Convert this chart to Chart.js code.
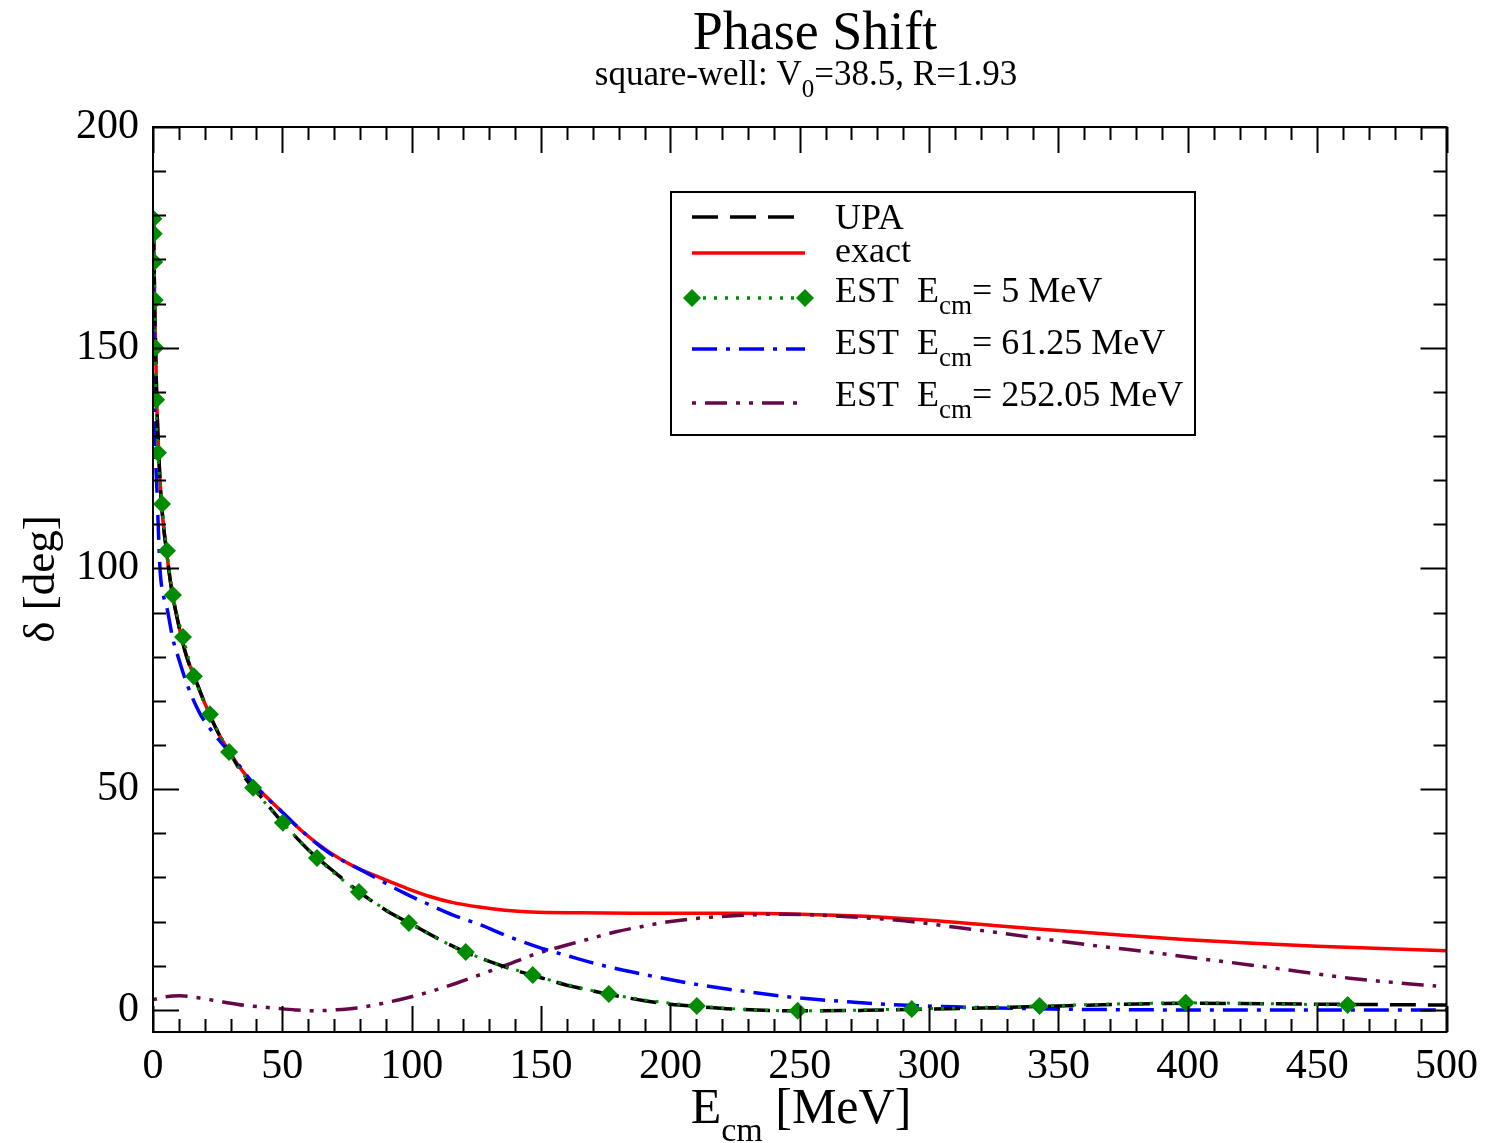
<!DOCTYPE html>
<html>
<head>
<meta charset="utf-8">
<script src="https://cdn.jsdelivr.net/npm/chart.js@4.4.0/dist/chart.umd.min.js"></script>
<style>
  html, body { margin: 0; padding: 0; background: #fff; }
  #wrap { width: 1488px; height: 1143px; }
</style>
</head>
<body>
<div id="wrap"><canvas id="mycanvas" width="1488" height="1143"></canvas></div>
<script>
// tick labels
var xTicks = [0, 50, 100, 150, 200, 250, 300, 350, 400, 450, 500];
var yTicks = [0, 50, 100, 150, 200];

// UPA (black dashed)
var upaE = [0.2, 0.4, 0.7, 1, 1.5, 2, 3, 4, 5, 7, 10, 13, 16, 20, 25, 30, 35, 40, 50, 60, 70, 80, 90, 100, 110, 120, 130, 140, 150, 160, 170, 180, 190, 200, 210, 225, 250, 275, 300, 325, 350, 400, 450, 500];
var upaD = [178, 170, 158, 150, 137, 129, 117, 110, 105, 96, 87, 80, 75.5, 69.5, 63, 58, 53, 49.5, 42.5, 36.3, 31.3, 26.6, 22.6, 19.4, 16.2, 13.3, 11, 9, 7.3, 5.6, 4.3, 3.1, 2.1, 1.3, 0.8, 0.2, -0.2, -0.1, 0.2, 0.5, 0.9, 1.5, 1.3, 1.1];

// exact (red)
var exactE = [0.2, 0.4, 0.7, 1, 1.5, 2, 3, 4, 5, 7, 10, 13, 16, 20, 25, 30, 35, 40, 50, 58, 68, 78, 88, 97, 107, 116, 126, 136, 146, 165, 185, 200, 225, 250, 275, 300, 325, 350, 375, 400, 425, 450, 475, 500];
var exactD = [178, 170, 158, 150, 137, 129, 117, 110, 105, 96, 87, 80, 75.5, 69.5, 63, 58, 53.8, 50.5, 44.8, 40.3, 35.8, 32.4, 29.9, 27.8, 25.7, 24.3, 23.3, 22.6, 22.2, 22, 21.9, 21.9, 21.9, 21.7, 21.2, 20.3, 19.1, 18, 16.9, 15.9, 15.1, 14.4, 13.9, 13.4];

// EST Ecm = 5 MeV (green diamonds)
var est5E = [0.15, 0.3, 0.45, 0.65, 0.9, 1.2, 1.9, 3.5, 5.4, 7.7, 11.6, 15.8, 22, 29.4, 38.7, 50.2, 63.4, 79.6, 98.9, 120.9, 146.8, 176.2, 210.2, 249.2, 293.3, 342.7, 399.2, 461.8];
var est5D = [179.2, 175.8, 169.4, 160.8, 150, 138.2, 126.2, 114.6, 104, 94, 84.5, 75.6, 67, 58.4, 50.3, 42.4, 34.4, 26.7, 19.7, 13.1, 7.9, 3.6, 0.9, -0.2, 0.2, 0.9, 1.6, 1.1];

// EST Ecm = 61.25 MeV (blue dash-dot)
var est61E = [0.1, 0.3, 0.6, 1, 1.5, 2.7, 4, 5.4, 7.7, 9.7, 13, 18, 23, 28.6, 38.6, 45, 50, 58, 68, 78.8, 87.7, 97, 107, 116, 126.4, 138, 150, 160, 173, 190, 211, 230, 250, 270, 289, 310, 326, 347, 375, 400, 450, 500];
var est61D = [176, 160, 133, 125, 118, 100, 94, 91, 84, 80, 74, 67.3, 63, 59, 51.4, 47.5, 44.8, 40.3, 35.6, 32.2, 29.4, 26.5, 23.8, 21.5, 19.3, 16.5, 14, 12.3, 10.2, 8, 5.7, 4.1, 2.7, 1.8, 1.1, 0.7, 0.45, 0.2, 0.05, 0, 0, 0];

// EST Ecm = 252.05 MeV (maroon dash-dot-dot)
var est252E = [0, 5, 10.4, 18, 27, 36, 46.4, 55, 61.8, 70, 78.8, 88, 98, 108, 117.5, 127, 136.7, 148, 160, 170, 179, 189, 198.6, 208, 218, 230, 243, 256, 269, 282, 295, 311.8, 328, 346.6, 365, 385, 405, 424, 443, 462.5, 480, 496];
var est252D = [2.3, 3, 3.2, 2.7, 1.8, 1, 0.45, 0, -0.2, 0, 0.45, 1.4, 2.7, 4.3, 6.1, 8.1, 10.2, 12.7, 14.7, 16.3, 17.7, 18.9, 19.9, 20.6, 21.1, 21.5, 21.7, 21.5, 21.1, 20.6, 19.9, 18.6, 17.4, 15.9, 14.5, 13.1, 11.6, 10.2, 8.7, 7.2, 6.2, 5.4];

var RED = "#ff0000", GREEN = "#008c00", BLUE = "#0000ff", MAROON = "#670748";
var SERIF = "'Liberation Serif', 'Times New Roman', serif";

function pts(xs, ys) {
	var out = [];
	for (var i in xs) { out.push({x: xs[i], y: ys[i]}); }
	return out;
}

var legendItems = [
	{text: "UPA", color: "#000", dash: [26, 12]},
	{text: "exact", color: RED, dash: []},
	{text: "EST  E", sub: "cm", rest: "= 5 MeV", color: GREEN, dash: [3, 8], marker: true},
	{text: "EST  E", sub: "cm", rest: "= 61.25 MeV", color: BLUE, dash: [25, 9, 4, 9]},
	{text: "EST  E", sub: "cm", rest: "= 252.05 MeV", color: MAROON, dash: [4, 9, 22, 9, 4, 9]}
];

function diamond(ctx, x, y, r, color) {
	ctx.beginPath();
	ctx.moveTo(x, y - r); ctx.lineTo(x + r, y); ctx.lineTo(x, y + r); ctx.lineTo(x - r, y);
	ctx.closePath();
	ctx.fillStyle = color;
	ctx.fill();
}

// text with one subscript in the middle, centred on cx
function subText(ctx, parts, cx, y, big, small, drop) {
	ctx.font = big + "px " + SERIF; var w1 = ctx.measureText(parts[0]).width, w3 = ctx.measureText(parts[2]).width;
	ctx.font = small + "px " + SERIF; var w2 = ctx.measureText(parts[1]).width;
	var x0 = cx - (w1 + w2 + w3) / 2;
	ctx.textAlign = "left";
	ctx.font = big + "px " + SERIF; ctx.fillText(parts[0], x0, y);
	ctx.font = small + "px " + SERIF; ctx.fillText(parts[1], x0 + w1, y + drop);
	ctx.font = big + "px " + SERIF; ctx.fillText(parts[2], x0 + w1 + w2, y);
}

// frame, inward ticks, titles and legend
var decor = {
	id: "decor",
	afterDatasetsDraw: function(chart) {
		var ctx = chart.ctx, a = chart.chartArea;
		var xs = chart.scales.x, ys = chart.scales.y;
		ctx.save();
		ctx.strokeStyle = "#000";
		ctx.lineWidth = 2;
		ctx.strokeRect(a.left, a.top, a.right - a.left, a.bottom - a.top);
		ctx.beginPath();
		for (var v = 0; v <= 500; v += 10) {
			var px = Math.round(xs.getPixelForValue(v)) + 0.5;
			var len = (v % 50 === 0) ? 26 : 13;
			ctx.moveTo(px, a.bottom); ctx.lineTo(px, a.bottom - len);
			ctx.moveTo(px, a.top); ctx.lineTo(px, a.top + len);
		}
		for (var w = 0; w <= 200; w += 10) {
			var py = Math.round(ys.getPixelForValue(w)) + 0.5;
			var l2 = (w % 50 === 0) ? 26 : 13;
			ctx.moveTo(a.left, py); ctx.lineTo(a.left + l2, py);
			ctx.moveTo(a.right, py); ctx.lineTo(a.right - l2, py);
		}
		ctx.stroke();

		ctx.fillStyle = "#000";
		ctx.textBaseline = "alphabetic";
		// title
		ctx.textAlign = "center";
		ctx.font = "54px " + SERIF;
		ctx.fillText("Phase Shift", 815, 49);
		// subtitle
		subText(ctx, ["square-well: V", "0", "=38.5, R=1.93"], 806, 85, 35, 25, 12);
		// x axis title
		subText(ctx, ["E", "cm", " [MeV]"], 801, 1123, 50, 34, 18);

		// y axis title
		ctx.save();
		ctx.translate(54, 579);
		ctx.rotate(-Math.PI / 2);
		ctx.textAlign = "center";
		ctx.font = "45px " + SERIF;
		ctx.fillText("\u03b4 [deg]", 0, 0);
		ctx.restore();

		// legend
		ctx.fillStyle = "#fff";
		ctx.fillRect(671, 192, 524, 243);
		ctx.strokeStyle = "#000";
		ctx.lineWidth = 2;
		ctx.strokeRect(671, 192, 524, 243);
		var rowY = [217, 253, 298, 349, 403];
		var baseY = [229, 262, 302, 354, 406];
		for (var i = 0; i < legendItems.length; i++) {
			var it = legendItems[i];
			ctx.save();
			ctx.strokeStyle = it.color;
			ctx.lineWidth = 3.5;
			ctx.setLineDash(it.dash);
			ctx.beginPath();
			ctx.moveTo(692, rowY[i]); ctx.lineTo(805, rowY[i]);
			ctx.stroke();
			ctx.restore();
			if (it.marker) {
				diamond(ctx, 692, rowY[i], 9, it.color);
				diamond(ctx, 805, rowY[i], 9, it.color);
			}
			ctx.fillStyle = "#000";
			ctx.textAlign = "left";
			ctx.font = "36px " + SERIF;
			ctx.fillText(it.text, 835, baseY[i]);
			if (it.sub) {
				var tw = ctx.measureText(it.text).width;
				ctx.font = "27px " + SERIF;
				ctx.fillText(it.sub, 835 + tw, baseY[i] + 12);
				var sw = ctx.measureText(it.sub).width;
				ctx.font = "36px " + SERIF;
				ctx.fillText(it.rest, 835 + tw + sw, baseY[i]);
			}
		}
		ctx.restore();
	}
};

var chartdata = {
	datasets: [
		{
			label: "UPA",
			data: pts(upaE, upaD),
			borderColor: "#000",
			borderWidth: 3.5,
			borderDash: [26, 12],
			pointRadius: 0,
			cubicInterpolationMode: "monotone",
			order: 2
		},
		{
			label: "exact",
			data: pts(exactE, exactD),
			borderColor: RED,
			borderWidth: 3.5,
			pointRadius: 0,
			cubicInterpolationMode: "monotone",
			order: 5
		},
		{
			label: "EST Ecm= 5 MeV",
			data: pts(est5E, est5D),
			borderColor: GREEN,
			backgroundColor: GREEN,
			borderWidth: 3,
			borderDash: [3, 8],
			pointStyle: "rectRot",
			pointRadius: 9,
			pointBorderWidth: 0,
			pointBackgroundColor: GREEN,
			cubicInterpolationMode: "monotone",
			order: 1
		},
		{
			label: "EST Ecm= 61.25 MeV",
			data: pts(est61E, est61D),
			borderColor: BLUE,
			borderWidth: 3.5,
			borderDash: [25, 9, 4, 9],
			pointRadius: 0,
			cubicInterpolationMode: "monotone",
			order: 3
		},
		{
			label: "EST Ecm= 252.05 MeV",
			data: pts(est252E, est252D),
			borderColor: MAROON,
			borderWidth: 3.5,
			borderDash: [4, 9, 22, 9, 4, 9],
			pointRadius: 0,
			cubicInterpolationMode: "monotone",
			order: 4
		}
	]
};

var ctx = document.getElementById("mycanvas");

var LineGraph = new Chart(ctx, {
	type: "line",
	data: chartdata,
	plugins: [decor],
	options: {
		responsive: false,
		animation: false,
		layout: {padding: {left: 0, top: 127, right: 41, bottom: 0}},
		plugins: {legend: {display: false}, tooltip: {enabled: false}, title: {display: false}},
		scales: {
			x: {
				type: "linear",
				min: 0, max: 500,
				afterBuildTicks: function(s) { s.ticks = xTicks.map(function(v) { return {value: v}; }); },
				afterFit: function(s) { s.height = 111; },
				grid: {display: false, drawTicks: false},
				border: {display: false},
				ticks: {color: "#000", padding: 10, maxRotation: 0, autoSkip: false, font: {family: SERIF, size: 42}}
			},
			y: {
				type: "linear",
				min: -5, max: 200,
				afterBuildTicks: function(s) { s.ticks = yTicks.map(function(v) { return {value: v}; }); },
				afterFit: function(s) { s.width = 153; },
				grid: {display: false, drawTicks: false},
				border: {display: false},
				ticks: {color: "#000", padding: 14, font: {family: SERIF, size: 42}}
			}
		}
	}
});
</script>
</body>
</html>
